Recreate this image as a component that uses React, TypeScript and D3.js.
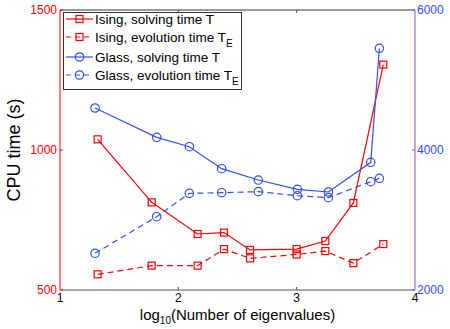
import * as d3 from "d3";

const isingX = [1.318, 1.775, 2.163, 2.386, 2.606, 3.0, 3.242, 3.479, 3.732];
const isingSolve = [1038, 813, 700, 705, 643, 646, 675, 811, 1305];
const isingEvol = [556, 587, 587, 646, 613, 627, 639, 596, 664];

const glassX = [1.296, 1.817, 2.093, 2.366, 2.676, 3.006, 3.268, 3.626, 3.699];
const glassSolve = [4600, 4181, 4047, 3733, 3571, 3438, 3400, 3824, 5453];
const glassEvol = [2524, 3047, 3381, 3390, 3405, 3347, 3319, 3547, 3596];

const xTicks = [1, 2, 3, 4];
const leftTicks = [500, 1000, 1500];
const rightTicks = [2000, 4000, 6000];

const RED = "#ff0000";
const BLUE = "#3050f0";
const PURPLE = "#9050c0";
const FONT = "Liberation Sans, Arial, sans-serif";

export default function App() {
  const width = 450;
  const height = 329;
  const m = { top: 10, right: 35, bottom: 39, left: 60 };

  const x = d3.scaleLinear().domain([1, 4]).range([m.left, width - m.right]);
  const yL = d3.scaleLinear().domain([500, 1500]).range([height - m.bottom, m.top]);
  const yR = d3.scaleLinear().domain([2000, 6000]).range([height - m.bottom, m.top]);

  const line = d3.line<[number, number]>().x((d) => d[0]).y((d) => d[1]);
  const pts = (xs: number[], ys: number[], y: d3.ScaleLinear<number, number>) =>
    xs.map((v, i) => [x(v), y(ys[i])] as [number, number]);

  const series = [
    { label: "Ising, solving time T", sub: "", pts: pts(isingX, isingSolve, yL), color: RED, dash: "", marker: "sq" },
    { label: "Ising, evolution time T", sub: "E", pts: pts(isingX, isingEvol, yL), color: RED, dash: "6,4", marker: "sq" },
    { label: "Glass, solving time T", sub: "", pts: pts(glassX, glassSolve, yR), color: BLUE, dash: "", marker: "ci" },
    { label: "Glass, evolution time T", sub: "E", pts: pts(glassX, glassEvol, yR), color: BLUE, dash: "6,4", marker: "ci" },
  ];

  const marker = (kind: string, cx: number, cy: number, color: string, key: any) =>
    kind === "sq" ? (
      <rect key={key} x={cx - 3.5} y={cy - 3.5} width={7} height={7} fill="none" stroke={color} strokeWidth={1.2} />
    ) : (
      <circle key={key} cx={cx} cy={cy} r={4.2} fill="none" stroke={color} strokeWidth={1.2} />
    );

  const y0 = height - m.bottom;
  const legendRows = [19, 37, 57, 75];

  return (
    <svg width={width} height={height} style={{ position: "absolute", left: 0, top: 0 }} fontFamily={FONT}>
      <rect width={width} height={height} fill="#fff" />
      {/* frame */}
      <line x1={m.left} x2={width - m.right} y1={m.top} y2={m.top} stroke="#333" />
      <line x1={m.left} x2={width - m.right} y1={y0} y2={y0} stroke="#555" />
      <line x1={m.left} x2={m.left} y1={m.top} y2={y0} stroke={RED} />
      <line x1={width - m.right} x2={width - m.right} y1={m.top} y2={y0} stroke={PURPLE} />

      {xTicks.map((t) => (
        <g key={t}>
          {t > 1 && t < 4 && (
            <>
              <line x1={x(t)} x2={x(t)} y1={y0} y2={y0 - 3} stroke="#555" />
              <line x1={x(t)} x2={x(t)} y1={m.top} y2={m.top + 3} stroke="#555" />
            </>
          )}
          <text x={x(t)} y={y0 + 12} textAnchor="middle" fontSize={12} fill="#000">
            {t}
          </text>
        </g>
      ))}
      {leftTicks.map((t) => (
        <g key={t}>
          <line x1={m.left} x2={m.left + 3} y1={yL(t)} y2={yL(t)} stroke={RED} />
          <text x={m.left - 3} y={yL(t)} dy="0.35em" textAnchor="end" fontSize={12} fill={RED}>
            {t}
          </text>
        </g>
      ))}
      {rightTicks.map((t) => (
        <g key={t}>
          <line x1={width - m.right} x2={width - m.right - 3} y1={yR(t)} y2={yR(t)} stroke={PURPLE} />
          <text x={width - m.right + 2} y={yR(t)} dy="0.35em" textAnchor="start" fontSize={12} fill={BLUE}>
            {t}
          </text>
        </g>
      ))}

      <text transform={`translate(20,${(m.top + y0) / 2}) rotate(-90)`} textAnchor="middle" fontSize={18}>
        CPU time (s)
      </text>
      <text x={(m.left + width - m.right) / 2} y={320} textAnchor="middle" fontSize={15}>
        log<tspan fontSize={10} dy={4}>10</tspan>
        <tspan dy={-4}>(Number of eigenvalues)</tspan>
      </text>

      {series.map((s, i) => (
        <g key={i}>
          <path d={line(s.pts) || ""} fill="none" stroke={s.color} strokeWidth={1.2} strokeDasharray={s.dash} />
          {s.pts.map((p, j) => marker(s.marker, p[0], p[1], s.color, j))}
        </g>
      ))}

      {/* legend */}
      <rect x={63.5} y={12.5} width={178} height={77} fill="#fff" stroke="#333" />
      {series.map((s, i) => (
        <g key={i}>
          <line x1={66} x2={93} y1={legendRows[i]} y2={legendRows[i]} stroke={s.color} strokeWidth={1.2} strokeDasharray={s.dash ? "5,4" : ""} />
          {marker(s.marker, 79.5, legendRows[i], s.color, "m")}
          <text x={95} y={legendRows[i]} dy="0.35em" fontSize={13.5}>
            {s.label}
            {s.sub && (
              <tspan fontSize={10} dy={5}>
                {s.sub}
              </tspan>
            )}
          </text>
        </g>
      ))}
    </svg>
  );
}
